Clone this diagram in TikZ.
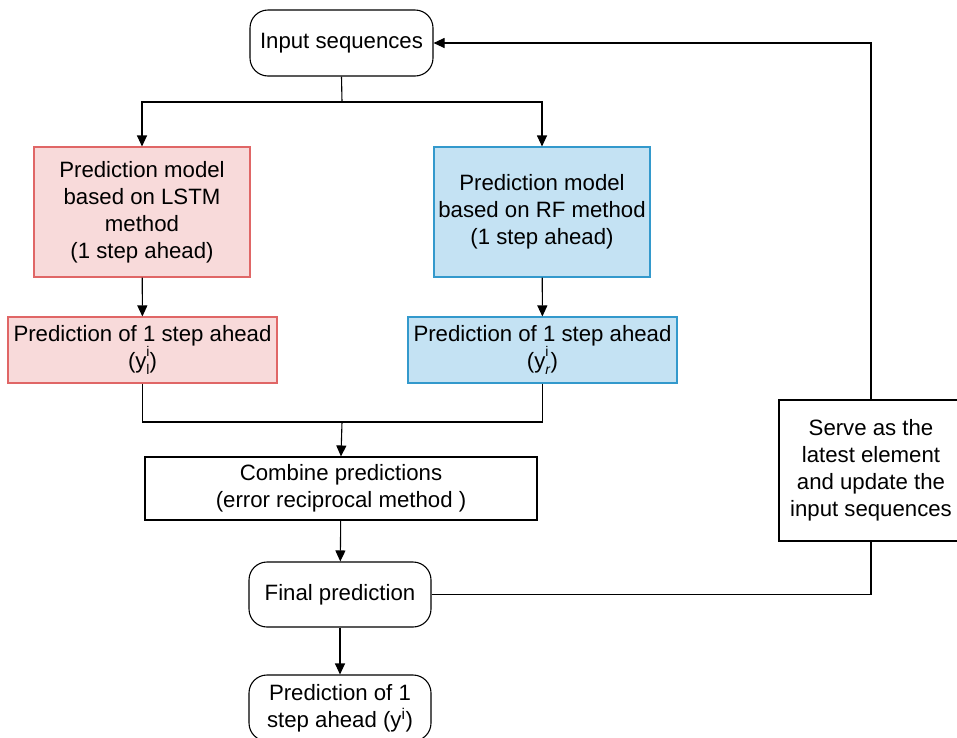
\documentclass[tikz,border=0pt]{standalone}
\usepackage{fontspec}
\setmainfont{Liberation Sans}
\usetikzlibrary{arrows.meta}
\definecolor{pinkfill}{HTML}{F8DADA}
\definecolor{pinkline}{HTML}{E06666}
\definecolor{bluefill}{HTML}{C4E2F3}
\definecolor{blueline}{HTML}{3399CC}
\newcommand{\ysub}[2]{y\rlap{\raisebox{0.55em}{\fontsize{14}{14}\selectfont #1}}\raisebox{-0.3em}{\fontsize{14}{14}\selectfont #2}}
\begin{document}
\begin{tikzpicture}[x=1pt,y=-1pt,
  font=\fontsize{22.2}{27}\selectfont,
  line width=1.1pt,
  box/.style n args={2}{draw, align=center, inner sep=0pt, minimum width=#1, minimum height=#2},
  rbox/.style={rounded corners=18pt},
  pinkbox/.style={fill=pinkfill, draw=pinkline},
  bluebox/.style={fill=bluefill, draw=blueline},
  arr/.style={-{Triangle[length=11pt,width=10pt]}}
]
\useasboundingbox (0,0) rectangle (957,737);
\fill[white] (0,0) rectangle (957,737);

\node[box={183}{66}, rbox] (in) at (341.5,43) {Input sequences};
\node[box={216}{130}, pinkbox] (lstm) at (142,212) {Prediction model\\based on LSTM\\method\\(1 step ahead)};
\node[box={216}{130}, bluebox] (rf) at (542,212) {Prediction model\\based on RF method\\(1 step ahead)};
\node[box={269}{66}, pinkbox] (pl) at (142.5,350) {Prediction of 1 step ahead\\(\ysub{i}{l})};
\node[box={269}{66}, bluebox] (pr) at (542.5,350) {Prediction of 1 step ahead\\(\ysub{i}{\textit{r}})};
\node[box={392}{63}] (comb) at (341,488.5) {Combine predictions\\(error reciprocal method )};
\node[box={182}{65}, rbox] (fin) at (340,594.5) {Final prediction};
\node[box={182}{66}, rbox] (out) at (340,708) {Prediction of 1\\step ahead (y\textsuperscript{i})};
\node[box={184}{141}] (serve) at (871,470.5) {Serve as the\\latest element\\and update the\\input sequences};

\coordinate (split) at (342,102);
\coordinate (merge) at (342,422);
\draw (in.south) -- (split);
\draw[arr] (split) -| (lstm.north);
\draw[arr] (split) -| (rf.north);
\draw[arr] (lstm) -- (pl);
\draw[arr] (rf) -- (pr);
\draw (pl.south) |- (merge);
\draw (pr.south) |- (merge);
\draw[arr] (merge) -- (comb.north);
\draw[arr] (comb) -- (fin);
\draw[arr] (fin) -- (out);
\draw (fin.east) -| (serve.south);
\draw[arr] (serve.north) |- (in.east);
\end{tikzpicture}
\end{document}
